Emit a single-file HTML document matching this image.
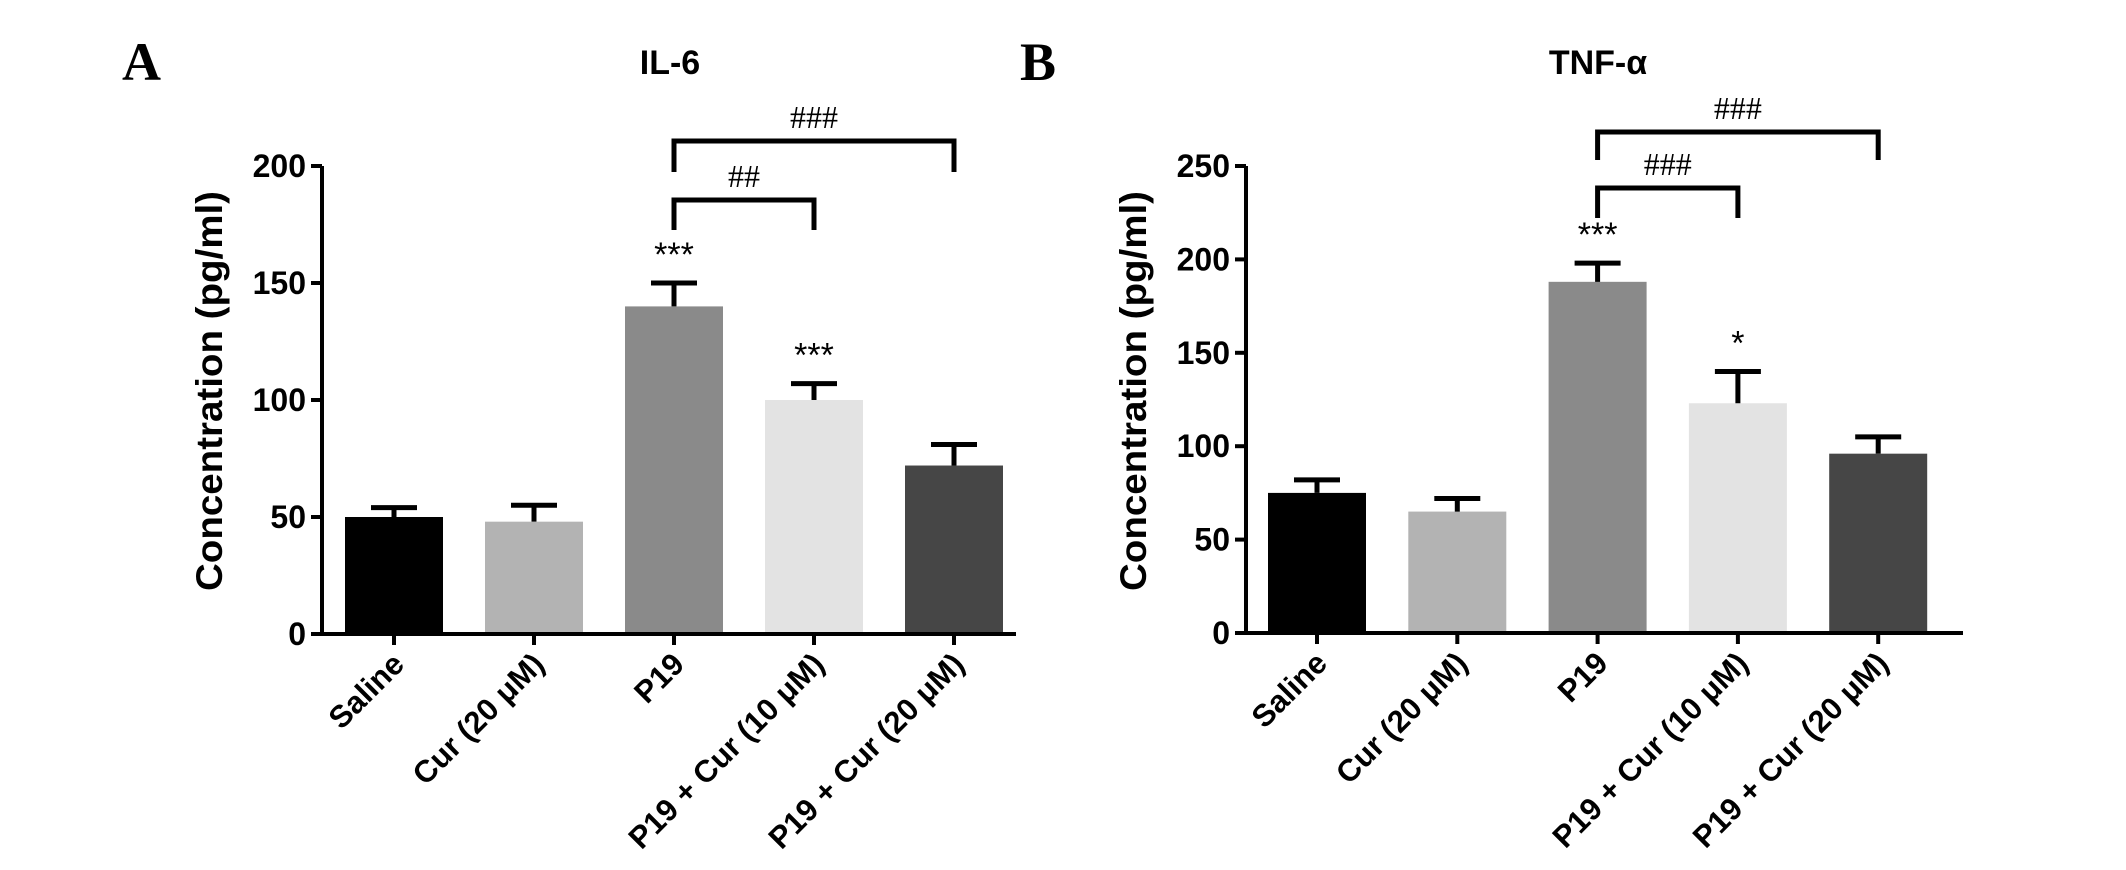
<!DOCTYPE html>
<html><head><meta charset="utf-8">
<style>
html,body{margin:0;padding:0;background:#fff;overflow:hidden;}
svg{display:block;}
</style></head>
<body>
<svg id="chart" width="2126" height="870" viewBox="0 0 2126 870" xmlns="http://www.w3.org/2000/svg"></svg>
<script>
const categories = ["Saline","Cur (20 \u03BCM)","P19","P19 + Cur (10 \u03BCM)","P19 + Cur (20 \u03BCM)"];
const il6Values = [50,48,140,100,72];
const il6ErrTop = [54,55,150,107,81];
const il6Ticks = [0,50,100,150,200];
const il6Stars = ["","","***","***",""];
const tnfValues = [75,65,188,123,96];
const tnfErrTop = [82,72,198,140,105];
const tnfTicks = [0,50,100,150,200,250];
const tnfStars = ["","","***","*",""];
const colors = ["#000000","#b3b3b3","#8a8a8a","#e3e3e3","#464646"];

const SANS='font-family:"Liberation Sans",Arial,sans-serif;';
const SERIF='font-family:"Liberation Serif","Times New Roman",serif;';
const NS="http://www.w3.org/2000/svg";
const svg=document.getElementById('chart');
function mk(tag,attrs,parent,txt){const e=document.createElementNS(NS,tag);for(const k in attrs)e.setAttribute(k,attrs[k]);if(txt!==undefined)e.textContent=txt;(parent||svg).appendChild(e);return e;}

function panel(o){
  const g=mk('g',{});
  
  
  const ymax=o.ticks[o.ticks.length-1];
  const y=v=>o.y0-(o.y0-o.yTop)*v/ymax;
  const x=i=>o.xStart+o.step*i;
  o.values.forEach((v,i)=>{
    const r=mk('rect',{x:x(i)-49,y:y(v),width:98,height:o.y0-y(v),fill:colors[i]},g);
    
    
    const eb=mk('path',{d:`M${x(i)},${y(v)} V${y(o.err[i])} M${x(i)-23},${y(o.err[i])} H${x(i)+23}`,stroke:'#000','stroke-width':5,fill:'none'},g);
    
    
    if(o.stars[i]){
      const s=mk('text',{x:x(i),y:y(o.err[i])-17,'text-anchor':'middle',style:SANS+'font-size:34px;'},g,o.stars[i]);
      
      
    }
  });
  const ax=mk('path',{d:`M${o.xAxis},${o.yTop} V${o.y0} H${o.xEnd}`,stroke:'#000','stroke-width':4,fill:'none'},g);
  
  
  o.ticks.forEach(t=>{
    mk('line',{x1:o.xAxis-11,x2:o.xAxis,y1:y(t),y2:y(t),stroke:'#000','stroke-width':4},g);
    const tl=mk('text',{x:o.xAxis-16,y:y(t)+11,'text-anchor':'end',style:SANS+'font-size:32px;font-weight:bold;'},g,t);
    
    
  });
  categories.forEach((c,i)=>{
    mk('line',{x1:x(i),x2:x(i),y1:o.y0,y2:o.y0+11,stroke:'#000','stroke-width':4},g);
    const tx=x(i)+12, ty=o.y0+32;
    const l=mk('text',{x:tx,y:ty,'text-anchor':'end',style:SANS+'font-size:31px;font-weight:bold;',transform:`rotate(-45 ${tx} ${ty})`},g,c);
    
    
  });
  const yt=mk('text',{x:0,y:0,'text-anchor':'middle',style:SANS+'font-size:37px;font-weight:bold;',textLength:400,lengthAdjust:'spacingAndGlyphs',transform:`translate(${o.yTitleX},${o.yTitleY}) rotate(-90)`},g,'Concentration (pg/ml)');
  
  
  const tt=mk('text',{x:o.titleX,y:o.titleY,'text-anchor':'middle',style:SANS+'font-size:34px;font-weight:bold;'},g,o.title);
  
  
  const pl=mk('text',{x:o.letterX,y:80,style:SERIF+'font-size:54px;font-weight:bold;'},g,o.letter);
  
  
  o.brackets.forEach(b=>{
    const p=mk('path',{d:`M${x(b.a)},${b.legs} V${b.top} H${x(b.b)} V${b.legs}`,stroke:'#000','stroke-width':5,fill:'none'},g);
    
    
    const bt=mk('text',{x:(x(b.a)+x(b.b))/2,y:b.top-13,'text-anchor':'middle',style:SERIF+'font-size:32px;'},g,b.label);
    
    
  });
}
panel({name:'il6-panel',values:il6Values,err:il6ErrTop,ticks:il6Ticks,stars:il6Stars,
  xAxis:322,xEnd:1016,y0:634,yTop:166,xStart:394,step:140,yTitleX:222,yTitleY:391,
  title:'IL-6',titleX:670,titleY:74,letter:'A',letterX:122,
  brackets:[{a:2,b:4,top:141,legs:172,label:'###'},{a:2,b:3,top:200,legs:230,label:'##'}]});
panel({name:'tnf-panel',values:tnfValues,err:tnfErrTop,ticks:tnfTicks,stars:tnfStars,
  xAxis:1246,xEnd:1963,y0:633,yTop:166,xStart:1317,step:140.3,yTitleX:1146,yTitleY:391,
  title:'TNF-\u03B1',titleX:1598,titleY:74,letter:'B',letterX:1020,
  brackets:[{a:2,b:4,top:132,legs:160,label:'###'},{a:2,b:3,top:188,legs:218,label:'###'}]});
</script>
</body></html>
